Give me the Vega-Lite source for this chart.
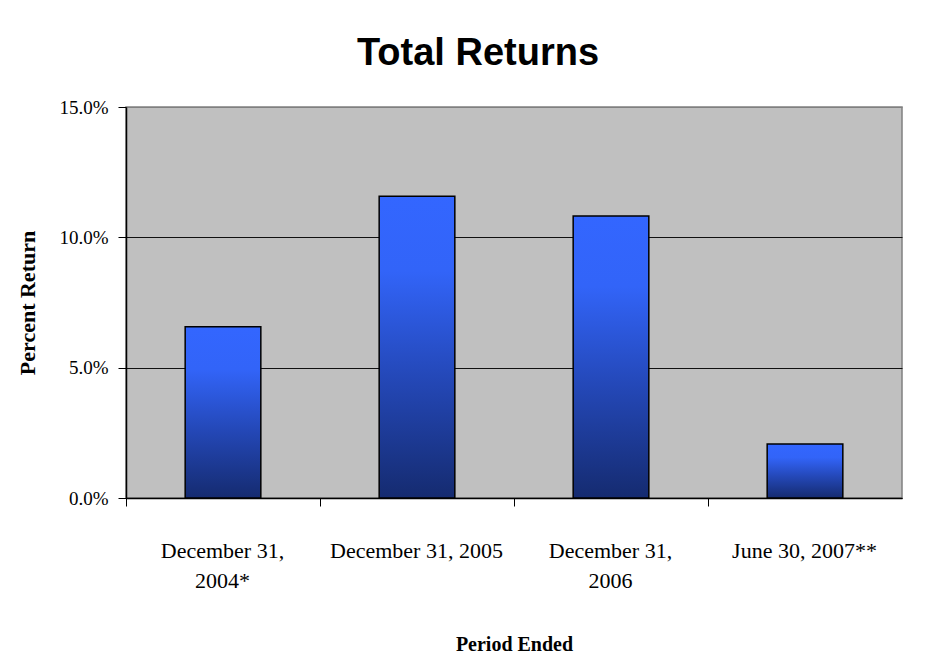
{
  "$schema": "https://vega.github.io/schema/vega-lite/v6.json",
  "width": 776,
  "height": 391,
  "autosize": {"type": "none"},
  "padding": {"left": 126, "top": 107, "right": 46, "bottom": 167},
  "background": "white",
  "title": {
    "text": "Total Returns",
    "font": "Liberation Sans",
    "fontSize": 38,
    "fontWeight": "bold",
    "color": "black",
    "anchor": "middle",
    "dx": -36,
    "baseline": "alphabetic",
    "offset": -5
  },
  "data": {
    "values": [
      {"period": "December 31, 2004*", "ret": 0.0657},
      {"period": "December 31, 2005", "ret": 0.1158},
      {"period": "December 31, 2006", "ret": 0.1082},
      {"period": "June 30, 2007**", "ret": 0.0207}
    ]
  },
  "mark": {
    "type": "bar",
    "stroke": "black",
    "strokeWidth": 1.5,
    "fill": {
      "gradient": "linear",
      "x1": 0, "y1": 0, "x2": 0, "y2": 1,
      "stops": [
        {"offset": 0, "color": "#3366FF"},
        {"offset": 0.25, "color": "#3264F8"},
        {"offset": 0.6, "color": "#2448B8"},
        {"offset": 1, "color": "#152B70"}
      ]
    }
  },
  "encoding": {
    "x": {
      "field": "period",
      "type": "nominal",
      "sort": null,
      "scale": {"paddingInner": 0.61, "paddingOuter": 0.305},
      "axis": {
        "title": "Period Ended",
        "titleFont": "Liberation Serif",
        "titleFontSize": 20,
        "titleFontWeight": "bold",
        "titleColor": "black",
        "titlePadding": 43,
        "labelAngle": 0,
        "labelFont": "Liberation Serif",
        "labelFontSize": 22,
        "labelColor": "black",
        "labelLineHeight": 30,
        "labelPadding": 34,
        "labelOverlap": false,
        "labelBound": false,
        "bandPosition": 0,
        "tickOffset": -59,
        "labelOffset": 58,
        "tickSize": 8,
        "tickColor": "black",
        "tickWidth": 1,
        "domainColor": "black",
        "domainWidth": 1.5,
        "labelExpr": "datum.label == 'December 31, 2004*' ? ['December 31,', '2004*'] : datum.label == 'December 31, 2006' ? ['December 31,', '2006'] : datum.label"
      }
    },
    "y": {
      "field": "ret",
      "type": "quantitative",
      "scale": {"domain": [0, 0.15], "nice": false},
      "axis": {
        "title": "Percent Return",
        "titleFont": "Liberation Serif",
        "titleFontSize": 22,
        "titleFontWeight": "bold",
        "titleColor": "black",
        "titlePadding": 19,
        "values": [0, 0.05, 0.1, 0.15],
        "format": ".1%",
        "labelFont": "Liberation Serif",
        "labelFontSize": 19,
        "labelColor": "black",
        "labelPadding": 10,
        "tickSize": 8,
        "tickColor": "black",
        "domainColor": "black",
        "domainWidth": 1.5,
        "grid": true,
        "gridColor": {"condition": {"test": "datum.value >= 0.15", "value": "#808080"}, "value": "#111111"},
        "gridWidth": 1,
        "gridOpacity": 1
      }
    }
  },
  "config": {
    "view": {"fill": "#C0C0C0", "stroke": "#808080", "strokeWidth": 1.5}
  }
}
